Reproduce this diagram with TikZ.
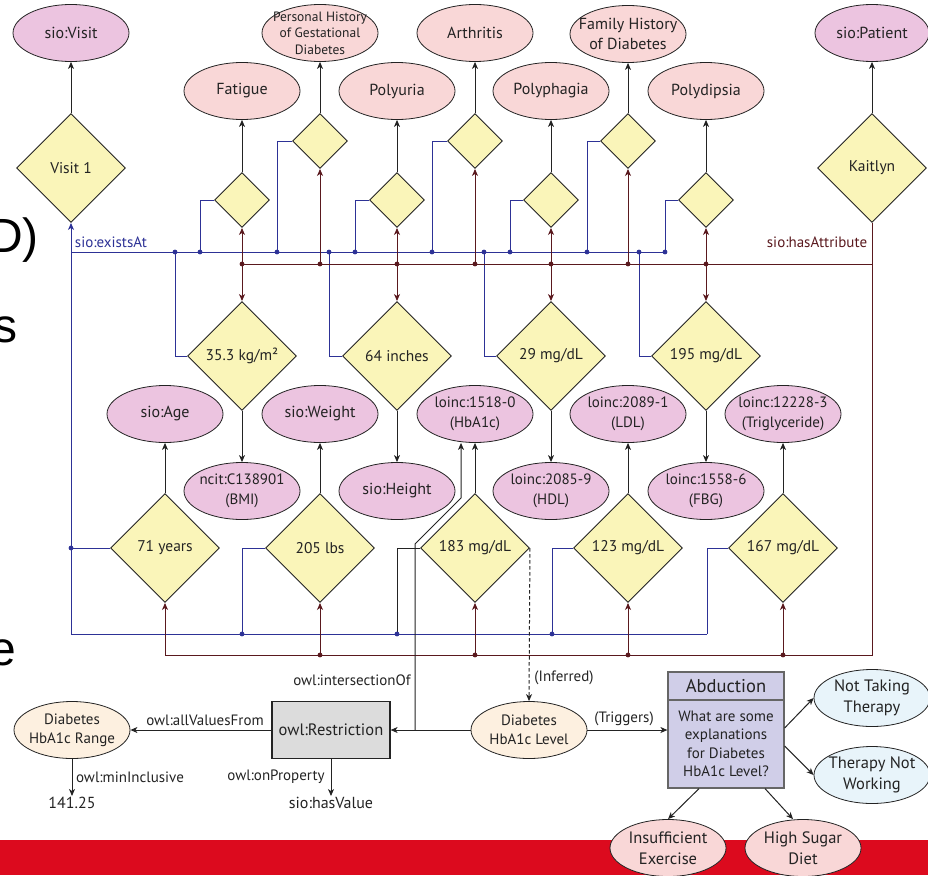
\documentclass[tikz,border=0pt]{standalone}
\usepackage{fontspec}
\setmainfont{PT Sans}
\newfontfamily\slidefont{Liberation Sans}
\usetikzlibrary{shapes.geometric,arrows.meta}
\definecolor{magfill}{RGB}{236,196,224}
\definecolor{salfill}{RGB}{249,215,215}
\definecolor{crefill}{RGB}{253,240,224}
\definecolor{blufill}{RGB}{232,244,250}
\definecolor{diafill}{RGB}{250,245,185}
\definecolor{lavfill}{RGB}{208,206,232}
\definecolor{boxgray}{RGB}{220,220,220}
\definecolor{lineblue}{RGB}{45,50,150}
\definecolor{linered}{RGB}{90,25,30}
\definecolor{barred}{RGB}{220,10,30}
\definecolor{inkc}{RGB}{35,35,35}
\begin{document}
\begin{tikzpicture}[x=1pt,y=-1pt,
  ell/.style={ellipse, draw=inkc, line width=0.8pt, minimum width=116pt, minimum height=57pt,
    inner xsep=-16pt, inner ysep=-11pt, align=center, text=inkc, font=\fontsize{16}{20}\selectfont},
  magell/.style={ell, fill=magfill},
  codeell/.style={ell, fill=magfill, font=\fontsize{15}{20}\selectfont},
  salell/.style={ell, fill=salfill},
  creell/.style={ell, fill=crefill, font=\fontsize{15}{19}\selectfont},
  bluell/.style={ell, fill=blufill, font=\fontsize{16.5}{21}\selectfont},
  botell/.style={ell, fill=salfill, font=\fontsize{16.5}{21}\selectfont},
  dia/.style={diamond, aspect=1, draw=inkc, line width=0.9pt, fill=diafill, inner sep=0pt,
    text=inkc, font=\fontsize{15.5}{18}\selectfont},
  bigdia/.style={dia, minimum width=109pt, minimum height=109pt},
  smalldia/.style={dia, minimum width=55pt, minimum height=55pt},
  blk/.style={draw=inkc, line width=1pt},
  blueln/.style={draw=lineblue, line width=1pt},
  redln/.style={draw=linered, line width=1pt},
  arr/.style={-{Stealth[length=7pt,width=6pt,inset=2pt]}},
  lbl/.style={inner sep=1pt, text=inkc, font=\fontsize{15}{17}\selectfont},
  frag/.style={inner sep=0pt, anchor=base west, font=\slidefont\fontsize{48}{48}\selectfont}
]
\useasboundingbox (0,0) rectangle (928,875);
\clip (0,0) rectangle (928,875);

% red bar
\fill[barred] (0,840) rectangle (928,875);

% slide text fragments at the left edge
\node[frag] (fragD) at (-12,252) {D)};
\node[frag] (fragS) at (-7,342) {s};
\node[frag] (fragE) at (-11,665) {e};

% top row ellipses
\node[magell] (visit) at (71,33) {sio:Visit};
\node[salell, font=\fontsize{13.5}{16.5}\selectfont] (pers) at (320,33) {Personal History\\of Gestational\\Diabetes};
\node[salell] (arth) at (475,33) {Arthritis};
\node[salell] (famh) at (628,34) {Family History\\of Diabetes};
\node[magell, minimum width=114pt] (patient) at (872,33) {sio:Patient};

% second row ellipses
\node[salell] (fatigue) at (242,91) {Fatigue};
\node[salell] (polyuria) at (397,91) {Polyuria};
\node[salell] (polyphagia) at (551,91) {Polyphagia};
\node[salell] (polydipsia) at (706,91) {Polydipsia};

% small diamonds
\node[smalldia] (dpers) at (320,141) {};
\node[smalldia] (darth) at (475,141) {};
\node[smalldia] (dfamh) at (628,141) {};
\node[smalldia] (dfat) at (242,200) {};
\node[smalldia] (dpolyu) at (397,200) {};
\node[smalldia] (dpolyph) at (551,200) {};
\node[smalldia] (dpolyd) at (706,200) {};

% big diamonds
\node[bigdia] (visit1) at (71,168) {Visit 1};
\node[bigdia] (kaitlyn) at (872,168) {Kaitlyn};
\node[bigdia] (dbmi) at (242,356) {35.3 kg/m²};
\node[bigdia] (dheight) at (397,356) {64 inches};
\node[bigdia] (dhdl) at (551,356) {29 mg/dL};
\node[bigdia] (dfbg) at (706,356) {195 mg/dL};
\node[bigdia] (dage) at (165,548) {71 years};
\node[bigdia] (dweight) at (320,548) {205 lbs};
\node[bigdia] (dhba1c) at (475,548) {183 mg/dL};
\node[bigdia] (dldl) at (628,548) {123 mg/dL};
\node[bigdia] (dtrig) at (783,548) {167 mg/dL};

% third row ellipses
\node[magell] (age) at (165,414) {sio:Age};
\node[magell] (weight) at (320,414) {sio:Weight};
\node[codeell] (hba1c) at (475,414) {loinc:1518-0\\(HbA1c)};
\node[codeell] (ldl) at (628,414) {loinc:2089-1\\(LDL)};
\node[codeell] (trig) at (783,414) {loinc:12228-3\\(Triglyceride)};

% fourth row ellipses
\node[codeell] (bmi) at (242,491) {ncit:C138901\\(BMI)};
\node[magell] (height) at (397,491) {sio:Height};
\node[codeell] (hdl) at (551,491) {loinc:2085-9\\(HDL)};
\node[codeell] (fbg) at (706,491) {loinc:1558-6\\(FBG)};

% bottom section
\node[creell] (range) at (72,730) {Diabetes\\HbA1c Range};
\node[draw=inkc, line width=1.2pt, fill=boxgray, minimum width=118pt, minimum height=57pt, inner sep=0pt,
  text=inkc, font=\fontsize{16.5}{20}\selectfont] (restr) at (331,730) {owl:Restriction};
\node[creell] (level) at (529,730) {Diabetes\\HbA1c Level};
\node[draw=black!60, line width=1.2pt, fill=lavfill, minimum width=116pt, minimum height=116pt, inner sep=0pt] (abd) at (726,730) {};
\node[draw=black!60, line width=1.2pt, fill=lavfill, minimum width=116pt, minimum height=28pt, inner sep=0pt,
  anchor=north, text=inkc, font=\fontsize{18.5}{20}\selectfont] (abdh) at (abd.north) {Abduction};
\node[align=center, inner sep=0pt, text=inkc, font=\fontsize{15}{18.5}\selectfont] (abdt) at (726,744) {What are some\\explanations\\for Diabetes\\HbA1c Level?};
\node[bluell] (ntt) at (872,698) {Not Taking\\Therapy};
\node[bluell] (tnw) at (872,775) {Therapy Not\\Working};
\node[botell] (ise) at (668,848) {Insufficient\\Exercise};
\node[botell] (hsd) at (803,848) {High Sugar\\Diet};
\node[lbl, font=\fontsize{16}{18}\selectfont] (val) at (72,803) {141.25};
\node[lbl, font=\fontsize{16}{18}\selectfont] (hasval) at (331,803) {sio:hasValue};

% connector labels
\node[lbl, text=lineblue] (lexists) at (111,242) {sio:existsAt};
\node[lbl, text=linered] (lattr) at (817,242) {sio:hasAttribute};
\node[lbl] (linter) at (352,680) {owl:intersectionOf};
\node[lbl] (lavf) at (205,720) {owl:allValuesFrom};
\node[lbl] (lmin) at (130,777) {owl:minInclusive};
\node[lbl] (lonp) at (276,777) {owl:onProperty};
\node[lbl] (linf) at (564,678) {(Inferred)};
\node[lbl] (ltrig) at (624,719) {(Triggers)};

% junction coordinates
\coordinate (tb0) at (71,252);
\foreach \x in {175,200,277,329,355,432,484,510,587,639,665} \coordinate (tb\x) at (\x,252);
\foreach \x in {242,320,397,475,551,628,706} \coordinate (mt\x) at (\x,264);
\foreach \x in {320,475,628,783} \coordinate (mb\x) at (\x,655);
\coordinate (mb165) at (165,655);
\coordinate (mb872) at (872,655);
\coordinate (bb71) at (71,634);
\coordinate (bb707) at (707,634);
\foreach \x in {242,397,552} \coordinate (bb\x) at (\x,634);
\coordinate (bj71) at (71,548);
\coordinate (ij) at (415,730);
\coordinate (ib1) at (415,544);
\coordinate (ib2) at (461,498);

% black arrows to classes
\draw[blk,arr] (visit1.north) -- (visit.south);
\draw[blk,arr] (kaitlyn.north) -- (patient.south);
\draw[blk,arr] (dpers.north) -- (pers.south);
\draw[blk,arr] (darth.north) -- (arth.south);
\draw[blk,arr] (dfamh.north) -- (famh.south);
\draw[blk,arr] (dfat.north) -- (fatigue.south);
\draw[blk,arr] (dpolyu.north) -- (polyuria.south);
\draw[blk,arr] (dpolyph.north) -- (polyphagia.south);
\draw[blk,arr] (dpolyd.north) -- (polydipsia.south);
\draw[blk,arr] (dbmi.south) -- (bmi.north);
\draw[blk,arr] (dheight.south) -- (height.north);
\draw[blk,arr] (dhdl.south) -- (hdl.north);
\draw[blk,arr] (dfbg.south) -- (fbg.north);
\draw[blk,arr] (dage.north) -- (age.south);
\draw[blk,arr] (dweight.north) -- (weight.south);
\draw[blk,arr] (dhba1c.north) -- (hba1c.south);
\draw[blk,arr] (dldl.north) -- (ldl.south);
\draw[blk,arr] (dtrig.north) -- (trig.south);

% blue (sio:existsAt) network
\draw[blueln] (tb0) -- (tb665);
\draw[blueln] (tb200) |- (dfat.west);
\draw[blueln] (tb277) |- (dpers.west);
\draw[blueln] (tb355) |- (dpolyu.west);
\draw[blueln] (tb432) |- (darth.west);
\draw[blueln] (tb510) |- (dpolyph.west);
\draw[blueln] (tb587) |- (dfamh.west);
\draw[blueln] (tb665) |- (dpolyd.west);
\draw[blueln] (tb175) |- (dbmi.west);
\draw[blueln] (tb329) |- (dheight.west);
\draw[blueln] (tb484) |- (dhdl.west);
\draw[blueln] (tb639) |- (dfbg.west);
\draw[blueln,arr] (bb707) -- (bb71) -- (visit1.south);
\draw[blueln] (bb707) |- (dtrig.west);
\draw[blueln] (bj71) -- (dage.west);
\draw[blueln] (bb242) |- (dweight.west);
\draw[blk] (bb397) |- (dhba1c.west);
\draw[blueln] (bb552) |- (dldl.west);
\foreach \c in {tb175,tb200,tb277,tb329,tb355,tb432,tb484,tb510,tb587,tb639,tb665,bj71,bb242,bb397,bb552}
  \fill[lineblue] (\c) circle[radius=2.4pt];

% maroon (sio:hasAttribute) network
\draw[redln] (mt242) -- (kaitlyn.south |- mt242);
\draw[redln,arr] (kaitlyn.south) -- (mb872) -- (mb165) -- (dage.south);
\draw[redln,arr] (mt242) -- (dfat.south);
\draw[redln,arr] (mt242) -- (dbmi.north);
\draw[redln,arr] (mt320) -- (dpers.south);
\draw[redln,arr] (mt397) -- (dpolyu.south);
\draw[redln,arr] (mt397) -- (dheight.north);
\draw[redln,arr] (mt475) -- (darth.south);
\draw[redln,arr] (mt551) -- (dpolyph.south);
\draw[redln,arr] (mt551) -- (dhdl.north);
\draw[redln,arr] (mt628) -- (dfamh.south);
\draw[redln,arr] (mt706) -- (dpolyd.south);
\draw[redln,arr] (mt706) -- (dfbg.north);
\draw[redln,arr] (mb320) -- (dweight.south);
\draw[redln,arr] (mb475) -- (dhba1c.south);
\draw[redln,arr] (mb628) -- (dldl.south);
\draw[redln,arr] (mb783) -- (dtrig.south);
\foreach \c in {mt242,mt320,mt397,mt475,mt551,mt628,mt706,mb320,mb475,mb628,mb783}
  \fill[linered] (\c) circle[radius=2.4pt];

% restriction / inference part
\draw[blk,arr] (level.west) -- (restr.east);
\draw[blk,arr] (ij) -- (ib1) -- (ib2) -- ([xshift=-14pt]hba1c.south);
\draw[blk,arr,dash pattern=on 3.5pt off 2.5pt] (dhba1c.east) -- (level.north);
\draw[blk,arr] (restr.west) -- (range.east);
\draw[blk,arr] (range.south) -- (val.north);
\draw[blk,arr] (restr.south) -- (hasval.north);
\draw[blk,arr] (level.east) -- (abd.west);
\draw[blk,arr] ([yshift=2pt]abd.east) -- (ntt.west);
\draw[blk,arr] ([yshift=-16pt]abd.east) -- (tnw.west);
\draw[blk,arr] ([xshift=-27pt]abd.south) -- (ise.north);
\draw[blk,arr] ([xshift=39pt]abd.south) -- ([xshift=-10pt]hsd.north);
\end{tikzpicture}
\end{document}
